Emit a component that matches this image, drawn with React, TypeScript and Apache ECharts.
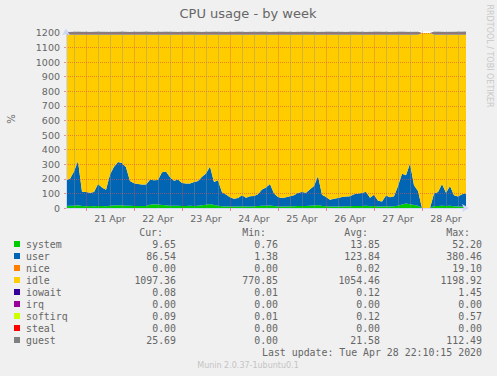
import React, { useEffect, useRef } from "react";
import * as echarts from "echarts";

// ---- time axis (2-hour samples from 20 Apr 14:00 to 28 Apr 22:00) ----
const dayLabels = ["20 Apr", "21 Apr", "22 Apr", "23 Apr", "24 Apr", "25 Apr", "26 Apr", "27 Apr", "28 Apr"];
const startHour = 14; // hours after 20 Apr 00:00
const stepHours = 2;
const yTicks = { min: 0, max: 1210, step: 100 };

// ---- series values ----
const systemVals = [
  14, 15, 16, 18, 14, 12, 13, 12, 14, 13, 12,
  15, 17, 18, 17, 16, 15, 14, 14, 13, 14,
  22, 25, 24, 20, 18, 16, 15, 16, 14, 14,
  15, 14, 16, 18, 22, 28, 20, 16, 12, 11,
  10, 10, 11, 12, 10, 11, 12, 13, 15, 16,
  17, 13, 11, 10, 11, 12, 12, 13, 14, 13,
  15, 17, 20, 14, 12, 10, 10, 11, 11, 12,
  12, 13, 14, 14, 15, 12, 13, 10, 10, 12,
  11, 12, 16, 24, 30, 26, 20, 16, 0, 0,
  0, 13, 14, 16, 13, 15, 12, 11, 11, 10,
];
const userVals = [
  176, 185, 234, 304, 98, 98, 92, 98, 151, 127, 113,
  215, 266, 297, 291, 264, 170, 156, 151, 148, 147,
  171, 165, 168, 225, 232, 194, 171, 179, 158, 154,
  153, 165, 169, 197, 215, 257, 159, 174, 96, 81,
  63, 54, 57, 76, 60, 69, 70, 82, 111, 124,
  148, 86, 64, 58, 63, 68, 75, 92, 96, 92,
  113, 133, 200, 76, 63, 47, 54, 57, 64, 66,
  68, 81, 86, 89, 97, 58, 77, 40, 35, 73,
  62, 68, 134, 211, 195, 279, 136, 101, 0, 0,
  0, 86, 96, 149, 92, 135, 75, 67, 83, 89,
];
const idleVals = [
  998, 988, 938, 866, 1076, 1078, 1083, 1078, 1023, 1048, 1063,
  958, 905, 873, 880, 908, 1003, 1018, 1023, 1027, 1027,
  995, 998, 996, 943, 938, 978, 1002, 993, 1016, 1020,
  1020, 1009, 1003, 973, 951, 903, 1009, 998, 1080, 1096,
  1115, 1124, 1120, 1100, 1118, 1108, 1106, 1093, 1062, 1048,
  1023, 1089, 1113, 1120, 1114, 1108, 1101, 1083, 1078, 1083,
  1060, 1038, 968, 1098, 1113, 1131, 1124, 1120, 1113, 1110,
  1108, 1094, 1088, 1085, 1076, 1118, 1098, 1138, 1143, 1103,
  1115, 1108, 1038, 953, 963, 883, 1032, 1071, 1200, 1200,
  1200, 1089, 1078, 1023, 1083, 1038, 1101, 1110, 1094, 1089,
];
const guestVals = [
  22, 21, 22, 23, 22, 22, 21, 22, 23, 22, 22,
  21, 22, 22, 23, 22, 21, 22, 22, 22, 23,
  22, 21, 22, 22, 23, 22, 22, 21, 22, 22,
  23, 22, 22, 21, 22, 22, 23, 22, 22, 21,
  22, 22, 23, 22, 21, 22, 22, 22, 23, 22,
  21, 22, 22, 23, 22, 22, 21, 22, 22, 23,
  22, 22, 21, 22, 22, 23, 22, 22, 22, 21,
  22, 23, 22, 22, 21, 22, 22, 23, 22, 22,
  21, 22, 22, 23, 22, 21, 22, 22, 0, 0,
  0, 22, 23, 22, 21, 22, 22, 23, 24, 25,
];

// ---- legend table ----
const legendNames = ["system", "user", "nice", "idle", "iowait", "irq", "softirq", "steal", "guest"];
const legendColors = ["#00CC00", "#0066B3", "#FF8000", "#FFCC00", "#330099", "#990099", "#CCFF00", "#FF0000", "#808080"];
const curVals = ["9.65", "86.54", "0.00", "1097.36", "0.08", "0.00", "0.09", "0.00", "25.69"];
const minVals = ["0.76", "1.38", "0.00", "770.85", "0.01", "0.00", "0.01", "0.00", "0.00"];
const avgVals = ["13.85", "123.84", "0.02", "1054.46", "0.12", "0.00", "0.12", "0.00", "21.58"];
const maxVals = ["52.20", "380.46", "19.10", "1198.92", "1.45", "0.00", "0.57", "0.00", "112.49"];
const headers = ["Cur:", "Min:", "Avg:", "Max:"];
const lastUpdate = "Last update: Tue Apr 28 22:10:15 2020";
const muninVersion = "Munin 2.0.37-1ubuntu0.1";

const FONT = '"DejaVu Sans", sans-serif';
const MONO = '"DejaVu Sans Mono", monospace';
const MAJOR = "rgba(222,79,79,0.6)";
const MINOR = "rgba(143,143,143,0.75)";
const AXIS = "#CFD6F8";

export default function App() {
  const ref = useRef<HTMLDivElement>(null);
  useEffect(() => {
    if (!ref.current) return;
    const chart = echarts.init(ref.current, null, { renderer: "svg" });
    const hours = systemVals.map((_, i) => startHour + i * stepHours);
    const cats = hours.map((h) => String(h));
    const hod = (i: number) => hours[i] % 24;

    const area = (name: string, data: number[], color: string) => ({
      name,
      type: "line",
      stack: "cpu",
      data,
      symbol: "none",
      showSymbol: false,
      silent: true,
      lineStyle: { width: 0 },
      itemStyle: { color },
      areaStyle: { color, opacity: 1 },
      z: 2,
    });

    const graphics: any[] = [];
    const txt = (x: number, y: number, text: string, font: string, fill: string, align: string, extra: any = {}) =>
      graphics.push({
        type: "text",
        x,
        y,
        silent: true,
        ...extra,
        style: { text, font, fill, align, textAlign: align, verticalAlign: "middle", textVerticalAlign: "middle" },
      });

    txt(248, 13, "CPU usage - by week", `13px ${FONT}`, "#666666", "center");
    txt(489, 56, "RRDTOOL / TOBI OETIKER", `8px ${FONT}`, "#c8c8c8", "center", { rotation: -Math.PI / 2 });
    txt(11, 119, "%", `10px ${FONT}`, "#666666", "center", { rotation: Math.PI / 2 });

    const colRight = [176, 278, 380, 482];
    const headRight = [163, 266, 368, 470];
    headers.forEach((h, j) => txt(headRight[j], 232.5, h, `9.9px ${MONO}`, "#666666", "right"));
    legendNames.forEach((n, k) => {
      const y = 244 + 12 * k;
      graphics.push({ type: "rect", silent: true, shape: { x: 14, y: y - 3, width: 6, height: 6 }, style: { fill: legendColors[k] } });
      txt(26, y, n, `9.9px ${MONO}`, "#666666", "left");
      [curVals, minVals, avgVals, maxVals].forEach((arr, j) => txt(colRight[j], y, arr[k], `9.9px ${MONO}`, "#666666", "right"));
    });
    txt(482, 352.5, lastUpdate, `9.9px ${MONO}`, "#666666", "right");
    txt(248, 365, muninVersion, `8px ${FONT}`, "#c4c4c4", "center");

    const option: any = {
      animation: false,
      backgroundColor: "#F0F0F0",
      grid: { left: 66, top: 31.5, width: 400, height: 176.5, show: true, backgroundColor: "#ffffff", borderWidth: 0 },
      xAxis: [
        {
          type: "category",
          data: cats,
          boundaryGap: false,
          z: 10,
          axisLine: { show: true, lineStyle: { color: AXIS }, symbol: ["none", "arrow"], symbolSize: [6, 7], symbolOffset: [0, 3] },
          axisTick: { show: true, length: 3, interval: (i: number) => hod(i) === 0, lineStyle: { color: MAJOR } },
          axisLabel: {
            interval: (i: number) => hod(i) === 12,
            formatter: (v: string) => dayLabels[Math.floor(Number(v) / 24)],
            color: "#666666",
            fontSize: 9.5,
            fontFamily: FONT,
            margin: 5,
          },
          splitLine: {
            show: true,
            interval: (i: number) => hod(i) % 6 === 0 && hod(i) !== 0,
            lineStyle: { color: MINOR, type: [1, 1], width: 1 },
          },
        },
        {
          type: "category",
          data: cats,
          boundaryGap: false,
          position: "bottom",
          z: 10,
          axisLine: { show: false },
          axisTick: { show: false },
          axisLabel: { show: false },
          splitLine: { show: true, interval: (i: number) => hod(i) === 0, lineStyle: { color: MAJOR, type: [1, 1], width: 1 } },
        },
      ],
      yAxis: {
        type: "value",
        min: yTicks.min,
        max: yTicks.max,
        interval: yTicks.step,
        z: 10,
        axisLine: { show: true, lineStyle: { color: AXIS }, symbol: ["none", "arrow"], symbolSize: [6, 7], symbolOffset: [0, 3] },
        axisTick: { show: true, length: 2, lineStyle: { color: MAJOR } },
        axisLabel: {
          color: "#666666",
          fontSize: 9.5,
          fontFamily: FONT,
          margin: 6,
          showMaxLabel: false,
          formatter: (v: number) => String(v),
        },
        splitLine: { show: true, showMinLine: false, showMaxLine: false, lineStyle: { color: MAJOR, type: [1, 1], width: 1 } },
      },
      series: [
        area("system", systemVals, legendColors[0]),
        area("user", userVals, legendColors[1]),
        area("idle", idleVals, legendColors[3]),
        area("guest", guestVals, legendColors[8]),
      ],
      graphic: graphics,
    };
    chart.setOption(option);
    return () => chart.dispose();
  }, []);
  return <div ref={ref} style={{ position: "fixed", left: 0, top: 0, width: 497, height: 376 }} />;
}
